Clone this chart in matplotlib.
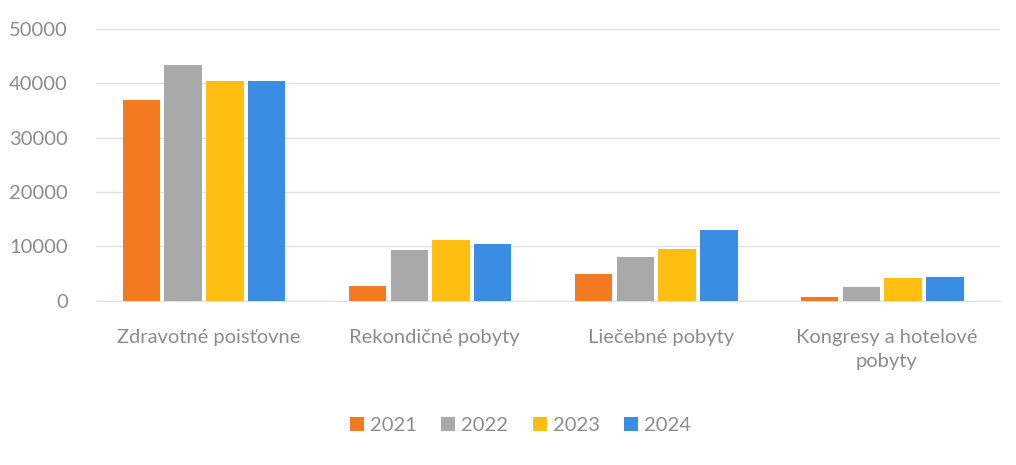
import numpy as np
import matplotlib.pyplot as plt

categories = ["Zdravotné poisťovne", "Rekondičné pobyty", "Liečebné pobyty",
              "Kongresy a hotelové\npobyty"]
years = ["2021", "2022", "2023", "2024"]

v2021 = [37000, 2700, 5000, 800]
v2022 = [43300, 9400, 8100, 2600]
v2023 = [40500, 11100, 9500, 4200]
v2024 = [40500, 10500, 13000, 4400]

colors = ["#F47A22", "#A9A9A9", "#FFBE12", "#3A8DE3"]
text_col = "#8c8c8c"

plt.rcParams['font.family'] = ['Lato', 'DejaVu Sans']

fig = plt.figure(figsize=(10.16, 4.65), dpi=100)
ax = fig.add_axes([0.094, 0.353, 0.89, 0.585])

x = np.arange(len(categories))
width = 0.165
step = 0.185
for i, (vals, col, yr) in enumerate(zip([v2021, v2022, v2023, v2024], colors, years)):
    ax.bar(x + (i - 1.5) * step - 0.02, vals, width, color=col, label=yr, zorder=3)

ax.set_xlim(-0.5, len(categories) - 0.5)
ax.set_ylim(0, 50000)
ax.set_yticks(range(0, 50001, 10000))
ax.grid(axis="y", color="#e2e2e2", linewidth=1, zorder=0)
for s in ax.spines.values():
    s.set_visible(False)
ax.spines["bottom"].set_visible(True)
ax.spines["bottom"].set_color("#e2e2e2")
ax.tick_params(length=0, colors=text_col, labelsize=14.5)
ax.tick_params(axis="y", pad=20)
ax.tick_params(axis="x", pad=20)
ax.set_xticks(x)
ax.set_xticklabels(categories, linespacing=1.5)

ax.legend(loc="upper center", bbox_to_anchor=(0.47, -0.36), ncol=4, frameon=False,
          fontsize=14.5, labelcolor=text_col, handlelength=0.7, handleheight=0.7,
          handletextpad=0.3, columnspacing=1.2)

fig.savefig("out.png", dpi=100)
